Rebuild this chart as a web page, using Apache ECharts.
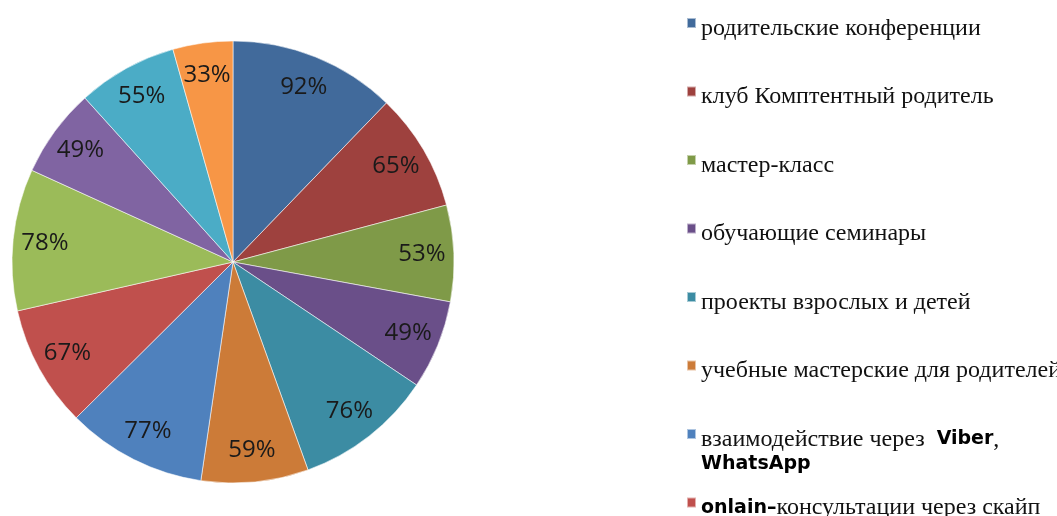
<!DOCTYPE html>
<html>
<head>
<meta charset="utf-8">
<script src="https://cdn.jsdelivr.net/npm/echarts@6/dist/echarts.min.js"></script>
<style>
  html, body { margin: 0; padding: 0; background: #fff; }
  #chart { width: 1057px; height: 516px; }
</style>
</head>
<body>
<div id="chart"></div>
<script>
// значения по формам работы (в процентах), по часовой стрелке от 12 часов
const values = [92, 65, 53, 49, 76, 59, 77, 67, 78, 49, 55, 33];
// подписи легенды (видны только первые 8, остальные обрезаны в оригинале)
const names = [
  'родительские конференции',
  'клуб Комптентный родитель',
  'мастер-класс',
  'обучающие семинары',
  'проекты взрослых и детей',
  'учебные мастерские для родителей',
  'взаимодействие через  Viber, WhatsApp',
  'onlain–консультации через скайп'
];
const legendText = [
  'родительские конференции',
  'клуб Комптентный родитель',
  'мастер-класс',
  'обучающие семинары',
  'проекты взрослых и детей',
  'учебные мастерские для родителей',
  'взаимодействие через  {b|Viber},\n{b|WhatsApp}',
  '{b|onlain–}консультации через скайп'
];
const colors = [
  '#416A9B', '#9E413E', '#7F9A48', '#6A4F89', '#3C8CA3', '#CC7B38',
  '#4F81BD', '#C0504D', '#9BBB59', '#8064A2', '#4BACC6', '#F79646'
];

const pieData = values.map((v, i) => ({
  name: names[i] !== undefined ? names[i] : 'slice' + (i + 1),
  value: v,
  itemStyle: { color: colors[i] }
}));

const myChart = echarts.init(document.getElementById('chart'))

// одна легенда на каждый пункт, чтобы держать ровный шаг как в Excel
const legends = names.map((n, i) => {
  const twoLines = legendText[i].indexOf('\n') >= 0
  const pad = twoLines ? 36 : 11
  const offset = twoLines ? 38 : 13
  return {
    orient: 'vertical',
    left: 686,
    top: 18 + i * 68.5 - offset,
    padding: 0,
    icon: 'rect',
    itemWidth: 9,
    itemHeight: 10,
    itemGap: 0,
    selectedMode: false,
    data: [n],
    formatter: () => legendText[i],
    textStyle: {
      fontFamily: 'Liberation Serif',
      fontSize: 24,
      lineHeight: 25,
      color: '#111',
      padding: [pad, 0, 0, 0],
      rich: {
        b: {
          fontFamily: 'DejaVu Sans',
          fontWeight: 'bold',
          fontSize: 19,
          lineHeight: 25,
          color: '#000'
        }
      }
    }
  }
})

const option = {
  animation: false,
  backgroundColor: '#fff',
  legend: legends,
  series: [
    {
      type: 'pie',
      center: [233, 262],
      radius: 221,
      startAngle: 90,
      clockwise: true,
      label: { show: false },
      labelLine: { show: false },
      emphasis: { disabled: true },
      itemStyle: { borderColor: 'rgba(255,255,255,0.55)', borderWidth: 1 },
      data: pieData
    },
    {
      // прозрачное кольцо только для подписей ближе к краю
      type: 'pie',
      center: [233, 262],
      radius: [151, 221],
      startAngle: 90,
      clockwise: true,
      silent: true,
      avoidLabelOverlap: false,
      legendHoverLink: false,
      itemStyle: { color: 'rgba(0,0,0,0)' },
      label: {
        show: true,
        position: 'inside',
        formatter: '{c}%',
        fontFamily: 'Open Sans',
        fontSize: 24,
        color: '#1a1a1a'
      },
      labelLine: { show: false },
      emphasis: { disabled: true },
      data: values.map((v, i) => ({ name: pieData[i].name, value: v }))
    }
  ]
}

option && myChart.setOption(option)
</script>
</body>
</html>
